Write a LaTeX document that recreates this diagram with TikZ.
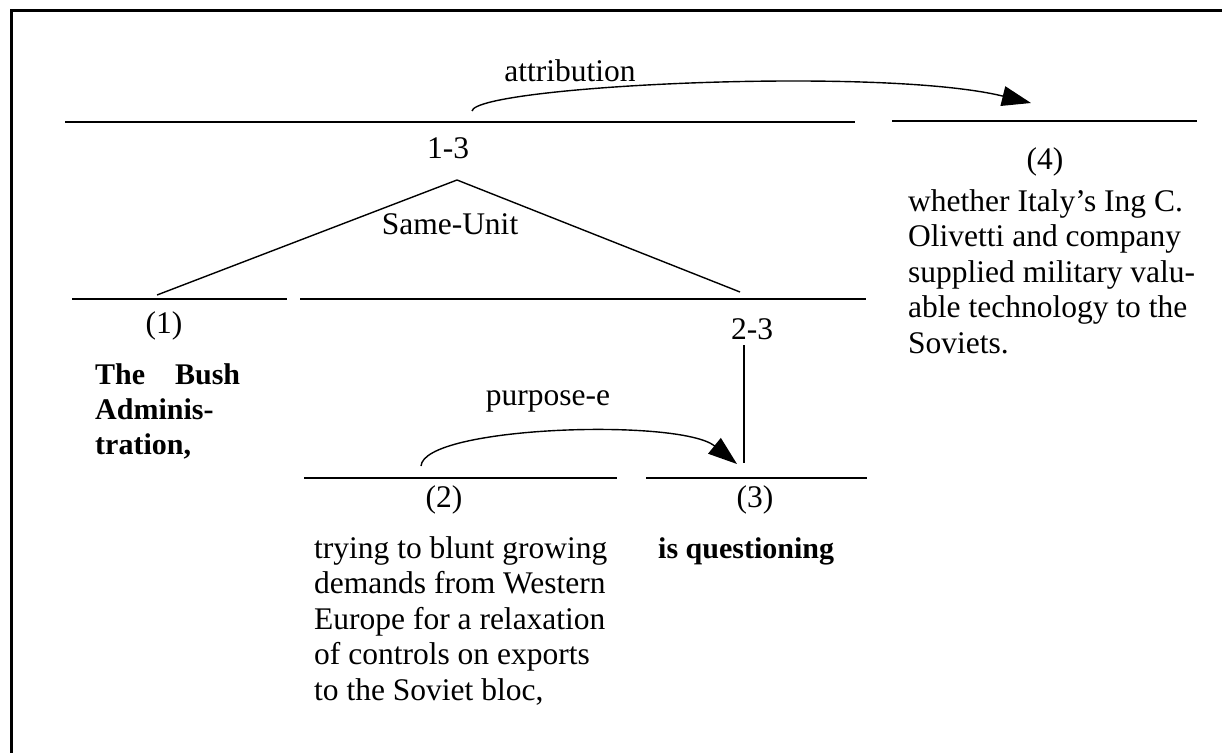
\documentclass[tikz,border=0pt]{standalone}
\usepackage{fontspec}
\setmainfont{Liberation Serif}
\usetikzlibrary{arrows.meta}
\begin{document}
\begin{tikzpicture}[x=1pt,y=-1pt,
  span/.style={line width=1.4pt},
  link/.style={line width=1.4pt},
  rel/.style={line width=1.4pt,-{Triangle[length=29pt,width=20pt]}},
  lbl/.style={inner sep=0pt,font=\fontsize{31.5}{35.5}\selectfont},
  txt/.style={inner sep=0pt,anchor=base west,font=\fontsize{31.5}{35.5}\selectfont},
  boldtxt/.style={inner sep=0pt,anchor=base west,font=\fontsize{30}{35}\selectfont\bfseries},
]
\useasboundingbox (0,0) rectangle (1222,752);
% outer frame (runs off the right and bottom edges)
\draw[line width=3pt] (11,11) rectangle (1240,770);

% span lines
\coordinate (s13a) at (65,122);  \coordinate (s13b) at (855,122);
\coordinate (s4a)  at (892,121); \coordinate (s4b)  at (1197,121);
\coordinate (s1a)  at (72,299);  \coordinate (s1b)  at (287,299);
\coordinate (s23a) at (300,299); \coordinate (s23b) at (866,299);
\coordinate (s2a)  at (304,478); \coordinate (s2b)  at (617,478);
\coordinate (s3a)  at (646,478); \coordinate (s3b)  at (867,478);
\draw[span] (s13a) -- (s13b);
\draw[span] (s4a) -- (s4b);
\draw[span] (s1a) -- (s1b);
\draw[span] (s23a) -- (s23b);
\draw[span] (s2a) -- (s2b);
\draw[span] (s3a) -- (s3b);

% span labels
\node[lbl] (l13) at (448,148) {1-3};
\node[lbl] (l4)  at (1045,162) {(4)};
\node[lbl] (l1)  at (164,326) {(1)};
\node[lbl] (l23) at (752,329) {2-3};
\node[lbl] (l2)  at (444,500) {(2)};
\node[lbl] (l3)  at (755,500) {(3)};

% relation names
\node[lbl] (rattr) at (570,71) {attribution};
\node[lbl] (rsame) at (450,224) {Same-Unit};
\node[lbl] (rpurp) at (548,401) {purpose-e};

% Same-Unit tree
\coordinate (apex) at (457,180);
\coordinate (leg1) at (157,295);
\coordinate (leg3) at (740,292);
\draw[link] (leg1) -- (apex) -- (leg3);

% 2-3 stem down to (3)
\coordinate (stemtop) at (744,345);
\coordinate (stembot) at (744,463);
\draw[link] (stemtop) -- (stembot);

% attribution arc
\coordinate (attrfrom) at (472,111);
\coordinate (attrto) at (1031,103);
\draw[rel] (attrfrom) .. controls (476,86) and (880,66) .. (attrto);

% purpose-e arc
\coordinate (purpfrom) at (421,466);
\coordinate (purpto) at (737,464);
\draw[rel] (purpfrom) .. controls (424,426) and (680,418) .. (purpto);

% unit texts
\node[boldtxt] (t1) at (95,384) {\parbox[t]{200pt}{\makebox[145pt][s]{The Bush}\\Adminis-\\tration,}};
\node[txt] (t2) at (314,558) {\parbox[t]{330pt}{trying to blunt growing\\demands from Western\\Europe for a relaxation\\of controls on exports\\to the Soviet bloc,}};
\node[boldtxt] (t3) at (658,558) {is questioning};
\node[txt] (t4) at (908,211) {\parbox[t]{330pt}{whether Italy’s Ing C.\\Olivetti and company\\supplied military valu-\\able technology to the\\Soviets.}};
\end{tikzpicture}
\end{document}
